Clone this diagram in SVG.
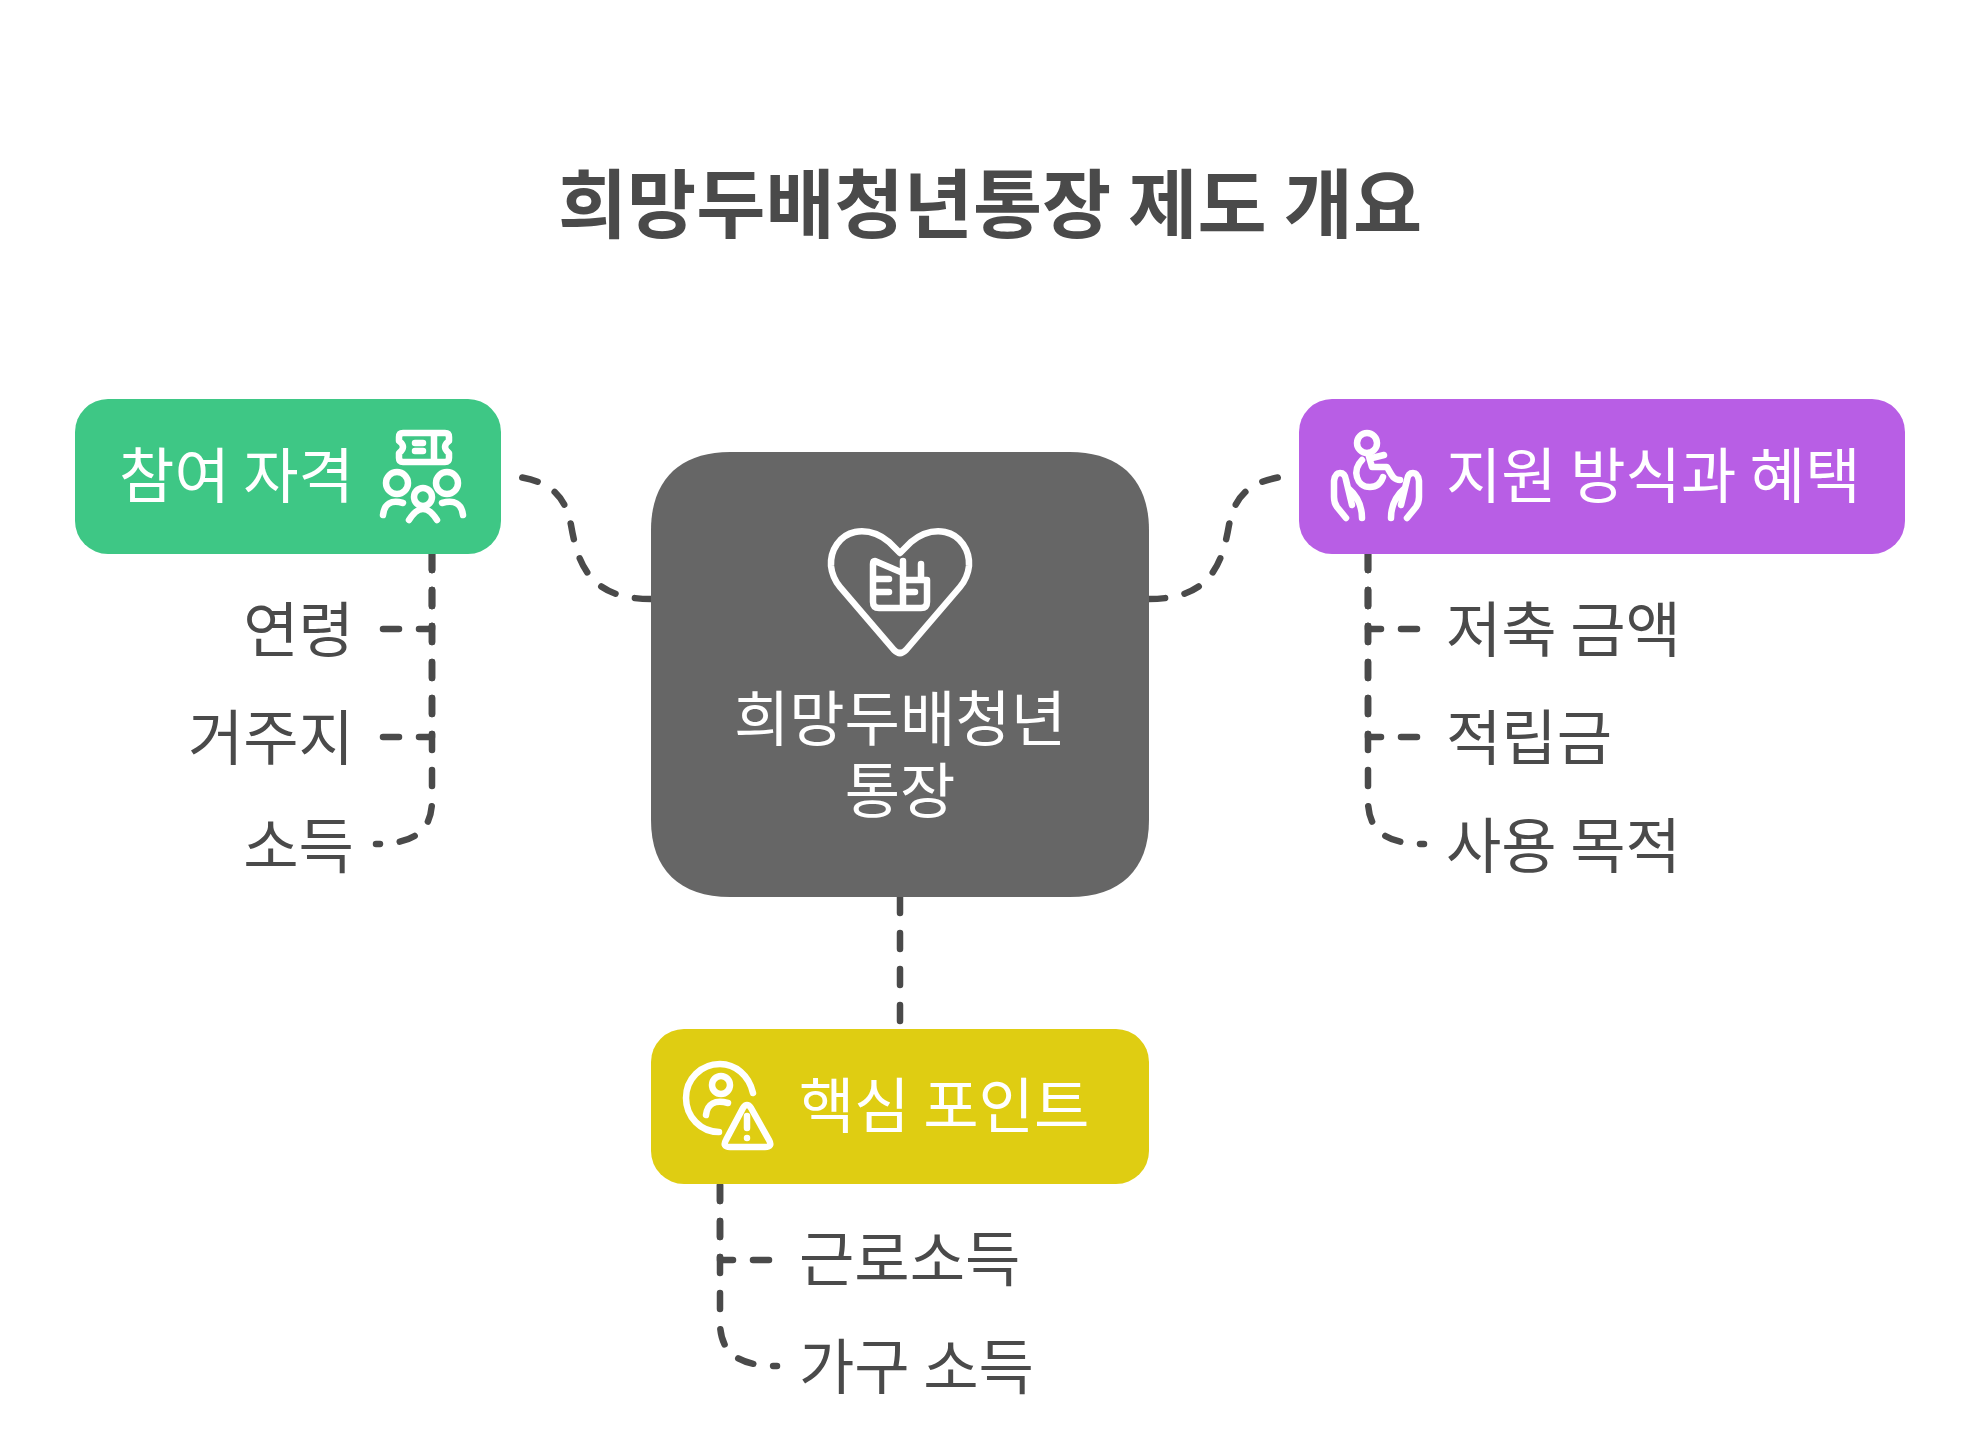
<svg xmlns="http://www.w3.org/2000/svg" width="1980" height="1429" viewBox="0 0 1980 1429">
<style>
text{font-family:"Noto Sans CJK KR","Noto Sans",sans-serif;font-size:60.2px;fill:#4a4a4a}
.w{fill:#fff}
.t{font-size:75.2px;font-weight:700;text-anchor:middle}
.c{fill:none;stroke:#4a4a4a;stroke-width:6.5;stroke-linecap:round;stroke-linejoin:round;stroke-dasharray:16 20}
.i{fill:none;stroke:#fff;stroke-width:6.5;stroke-linecap:round;stroke-linejoin:round}
.e{text-anchor:end}
.m{text-anchor:middle}
</style>
<rect width="1980" height="1429" fill="#fff"/>
<text id="title" class="t" x="990" y="232">희망두배청년통장 제도 개요</text>
<g id="connectors">
<path class="c" d="M651 599C590 599 578 565 571 525C565 495 550 482 519 477"/>
<path class="c" d="M1149 599C1210 599 1222 565 1229 525C1235 495 1250 482 1281 477"/>
<path class="c" d="M900 897V1029"/>
<path class="c" d="M432 554V629H378"/>
<path class="c" d="M432 554V737H378"/>
<path class="c" d="M432 554V800C432 830 415 844 376 844"/>
<path class="c" d="M1368 554V629H1422"/>
<path class="c" d="M1368 554V737H1422"/>
<path class="c" d="M1368 554V800C1368 830 1385 844 1424 844"/>
<path class="c" d="M720 1185V1260H775"/>
<path class="c" d="M720 1185V1322C720 1352 737 1366 777 1366"/>
</g>
<g id="node-center">
<path d="M651 530C651 480 680 452 730 452H1070C1120 452 1149 480 1149 530V820C1149 870 1120 897 1070 897H730C680 897 651 870 651 820Z" fill="#666"/>
<g class="i">
<path d="M900 553L889 542C878 533 866 530 855 532C840 535 830 550 831 566C832 575 835 581 840 587L894 650Q900 656 906 650L960 587C965 581 968 575 969 566C970 550 960 535 945 532C934 530 922 533 911 542Z"/>
<path d="M903 573L875 561Q873 561 873 564V602Q873 608 879 608H921Q927 608 927 602V580H903M903 561V608M921 564V580M875 579H889M875 592H889M905 592H915"/>
</g>
<text class="w m" x="900" y="741">희망두배청년</text>
<text class="w m" x="900" y="813">통장</text>
</g>
<g id="node-green">
<rect x="75" y="399" width="426" height="155" rx="33" fill="#3ec785"/>
<text class="w e" x="354" y="498">참여 자격</text>
<g class="i">
<path d="M403 433H445Q449 433 449 437V441Q441 447 449 453V458Q449 462 445 462H403Q399 462 399 458V453Q407 447 399 441V437Q399 433 403 433ZM434 433V462M415 443H423M415 451H423"/>
<circle cx="397" cy="483" r="11"/><circle cx="447" cy="483" r="11"/><circle cx="423" cy="497" r="9"/>
<path d="M383 515Q385 498 403 503M463 515Q461 498 442 503M409 520Q423 498 437 520"/>
</g>
</g>
<g id="node-purple">
<rect x="1299" y="399" width="606" height="155" rx="33" fill="#b85ee5"/>
<text class="w" x="1446" y="498">지원 방식과 혜택</text>
<g class="i">
<circle cx="1367" cy="443" r="10"/>
<path d="M1368 453L1372 467H1387C1392 475 1393 480 1400 480M1372 458L1384 455M1362 460C1352 470 1356 487 1370 487C1377 487 1381 483 1383 477"/>
<path d="M1346 518L1337 507Q1334 503 1334 497V481Q1335 473 1340 473Q1345 473 1346 480L1352 505M1348 488Q1362 500 1362 518"/>
<path d="M1407 518L1416 507Q1419 503 1419 497V481Q1418 473 1413 473Q1408 473 1407 480L1401 505M1405 488Q1391 500 1391 518"/>
</g>
</g>
<g id="node-yellow">
<rect x="651" y="1029" width="498" height="155" rx="33" fill="#dfcd12"/>
<text class="w" x="799" y="1128">핵심 포인트</text>
<g class="i">
<path d="M753 1093C749 1075 735 1064 720 1064C701 1064 686 1079 686 1098C686 1117 701 1132 719 1132"/>
<circle cx="721" cy="1085" r="9"/>
<path d="M706 1115Q708 1098 728 1103"/>
<path d="M743 1108Q747 1102 751 1108L769 1140Q773 1147 765 1147H730Q722 1147 726 1140ZM747 1116V1128M747 1138V1138.1"/>
</g>
</g>
<g id="labels">
<text class="e" x="354" y="652">연령</text>
<text class="e" x="354" y="760">거주지</text>
<text class="e" x="354" y="868">소득</text>
<text x="1446" y="652">저축 금액</text>
<text x="1446" y="760">적립금</text>
<text x="1446" y="868">사용 목적</text>
<text x="799" y="1281">근로소득</text>
<text x="799" y="1389">가구 소득</text>
</g>
</svg>
